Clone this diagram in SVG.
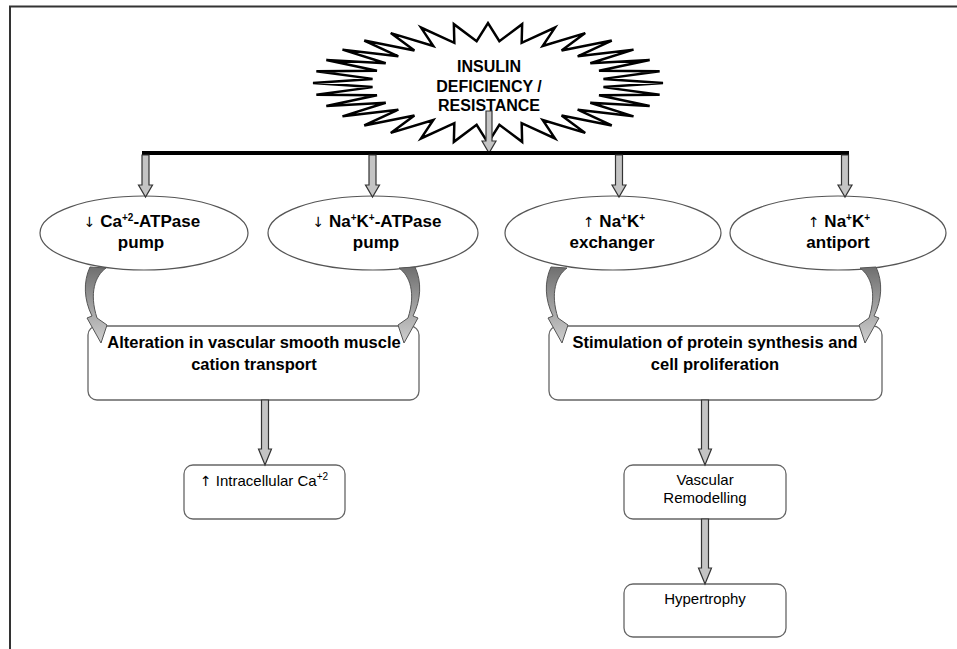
<svg xmlns="http://www.w3.org/2000/svg" width="957" height="649" viewBox="0 0 957 649">
<defs>
<style>
.t{font-family:"Liberation Sans",Arial,sans-serif;fill:#000;text-anchor:middle}
.b{font-weight:bold;font-size:17px}
.r{font-weight:bold;font-size:16.5px}
.s{font-size:15px}
.ar{font-family:"DejaVu Sans",sans-serif;font-weight:normal;font-size:14px;fill:#000}
.sup{font-size:10px}
.ell{fill:#fff;stroke:#555;stroke-width:1.2}
.box{fill:#fff;stroke:#666;stroke-width:1.3}
.blk{fill:#c4c4c4;stroke:#333;stroke-width:1.2}
.crv{fill:url(#cg);stroke:#555;stroke-width:1}
</style>
<linearGradient id="cg" x1="0" y1="0" x2="0" y2="1">
<stop offset="0" stop-color="#6f6f6f"/>
<stop offset="1" stop-color="#cfcfcf"/>
</linearGradient>
<path id="curve" d="M90,267 L106,268 C95,276 89,293 97,318 L107,325 L101,343 L87,318 L92,316 C84,300 83,282 90,267 Z"/>
</defs>
<rect width="957" height="649" fill="#fff"/>
<path d="M10,649 L10,6.5 L957,6.5" fill="none" stroke="#333" stroke-width="2"/>

<g id="insulin">
<polygon points="663,83 603.44,87.12 659.64,94.71 599.01,95.19 649.68,105.96 590.3,102.8 633.51,116.33 577.67,109.64 611.74,125.43 561.59,115.47 585.22,132.89 542.68,120.04 554.97,138.43 521.67,123.19 522.14,141.85 499.37,124.8 488,143 476.63,124.8 453.86,141.85 454.33,123.19 421.03,138.43 433.32,120.04 390.78,132.89 414.41,115.47 364.26,125.43 398.33,109.64 342.49,116.33 385.7,102.8 326.32,105.96 376.99,95.19 316.36,94.71 372.56,87.12 313,83 372.56,78.88 316.36,71.29 376.99,70.81 326.32,60.04 385.7,63.2 342.49,49.67 398.33,56.36 364.26,40.57 414.41,50.53 390.78,33.11 433.32,45.96 421.03,27.57 454.33,42.81 453.86,24.15 476.63,41.2 488,23 499.37,41.2 522.14,24.15 521.67,42.81 554.97,27.57 542.68,45.96 585.22,33.11 561.59,50.53 611.74,40.57 577.67,56.36 633.51,49.67 590.3,63.2 649.68,60.04 599.01,70.81 659.64,71.29 603.44,78.88" fill="#fff" stroke="#000" stroke-width="2.5" stroke-linejoin="miter"/>
<text class="t" font-weight="bold" font-size="16" x="489" y="72">INSULIN</text>
<text class="t" font-weight="bold" font-size="16" x="489" y="92">DEFICIENCY /</text>
<text class="t" font-weight="bold" font-size="16" x="489" y="111">RESISTANCE</text>
</g>

<g id="ca-atpase">
<ellipse class="ell" cx="144" cy="233" rx="104" ry="37"/>
<text class="t b" x="142" y="227"><tspan class="ar">↓</tspan> Ca<tspan class="sup" dy="-6">+2</tspan><tspan dy="6">-ATPase</tspan></text>
<text class="t b" x="141" y="248">pump</text>
</g>

<g id="nak-atpase">
<ellipse class="ell" cx="373" cy="233" rx="105" ry="37"/>
<text class="t b" x="377" y="227"><tspan class="ar">↓</tspan> Na<tspan class="sup" dy="-6">+</tspan><tspan dy="6">K</tspan><tspan class="sup" dy="-6">+</tspan><tspan dy="6">-ATPase</tspan></text>
<text class="t b" x="376" y="248">pump</text>
</g>

<g id="nak-exchanger">
<ellipse class="ell" cx="613" cy="233" rx="108" ry="37"/>
<text class="t b" x="614" y="227"><tspan class="ar">↑</tspan> Na<tspan class="sup" dy="-6">+</tspan><tspan dy="6">K</tspan><tspan class="sup" dy="-6">+</tspan></text>
<text class="t b" x="612" y="248">exchanger</text>
</g>

<g id="nak-antiport">
<ellipse class="ell" cx="838" cy="233" rx="108" ry="37"/>
<text class="t b" x="839" y="227"><tspan class="ar">↑</tspan> Na<tspan class="sup" dy="-6">+</tspan><tspan dy="6">K</tspan><tspan class="sup" dy="-6">+</tspan></text>
<text class="t b" x="838" y="248">antiport</text>
</g>

<g id="alteration">
<rect class="box" x="88" y="326" width="331" height="74" rx="9"/>
<text class="t r" x="254" y="348">Alteration in vascular smooth muscle</text>
<text class="t r" x="254" y="370">cation transport</text>
</g>

<g id="stimulation">
<rect class="box" x="549" y="326" width="333" height="74" rx="9"/>
<text class="t r" x="715" y="348">Stimulation of protein synthesis and</text>
<text class="t r" x="715" y="370">cell proliferation</text>
</g>

<g id="intracellular">
<rect class="box" x="184" y="465" width="161" height="54" rx="9"/>
<text class="t s" x="264" y="486"><tspan class="ar" font-size="13">↑</tspan> Intracellular Ca<tspan font-size="10" dy="-6">+2</tspan></text>
</g>

<g id="remodelling">
<rect class="box" x="624" y="465" width="162" height="54" rx="9"/>
<text class="t s" x="705" y="485">Vascular</text>
<text class="t s" x="705" y="503">Remodelling</text>
</g>

<g id="hypertrophy">
<rect class="box" x="624" y="584" width="162" height="53" rx="9"/>
<text class="t s" x="705" y="604">Hypertrophy</text>
</g>

<g id="connectors">
<path class="blk" d="M486,111 L492,111 L492,141 L496,141 L489,153 L482,141 L486,141 Z"/>
<rect x="142" y="151" width="707" height="4" fill="#000"/>
<path class="blk" d="M142,155 L149,155 L149,185 L152.5,185 L145.5,197 L138.5,185 L142,185 Z"/>
<path class="blk" d="M369,155 L376,155 L376,185 L379.5,185 L372.5,197 L365.5,185 L369,185 Z"/>
<path class="blk" d="M615.5,155 L622.5,155 L622.5,185 L626,185 L619,197 L612,185 L615.5,185 Z"/>
<path class="blk" d="M841.5,155 L848.5,155 L848.5,185 L852,185 L845,197 L838,185 L841.5,185 Z"/>
<use href="#curve" class="crv"/>
<use href="#curve" class="crv" transform="translate(505,0) scale(-1,1)"/>
<use href="#curve" class="crv" transform="translate(461,0)"/>
<use href="#curve" class="crv" transform="translate(966,0) scale(-1,1)"/>
<path class="blk" d="M261.5,400 L268.5,400 L268.5,449 L271.5,449 L265,465 L258.5,449 L261.5,449 Z"/>
<path class="blk" d="M701.5,400 L708.5,400 L708.5,449 L711.5,449 L705,465 L698.5,449 L701.5,449 Z"/>
<path class="blk" d="M701.5,519 L708.5,519 L708.5,568 L711.5,568 L705,584 L698.5,568 L701.5,568 Z"/>
</g>
</svg>
